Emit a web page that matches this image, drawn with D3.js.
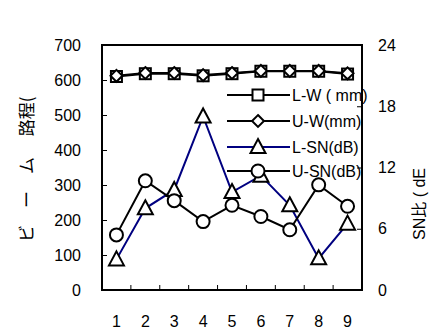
<!DOCTYPE html>
<html>
<head>
<meta charset="utf-8">
<script src="https://cdn.jsdelivr.net/npm/d3@7"></script>
<style>
  body { margin: 0; background: #fff; }
  text { font-family: "Liberation Sans", Arial, "Noto Sans CJK JP", sans-serif; }
</style>
</head>
<body>
<figure id="chart" style="margin:0"></figure>
<script>
// data
const categories = ["1", "2", "3", "4", "5", "6", "7", "8", "9"];
const lw = [610, 618, 618, 612, 618, 625, 625, 625, 617];
const uw = [612, 620, 620, 614, 620, 626, 626, 626, 619];
const lsn = [3.0, 8.0, 9.8, 17.0, 9.6, 11.2, 8.3, 3.1, 6.5];
const usn = [5.4, 10.7, 8.75, 6.7, 8.3, 7.2, 5.9, 10.3, 8.2];
const leftTicks = [0, 100, 200, 300, 400, 500, 600, 700];
const rightTicks = [0, 6, 12, 18, 24];
const seriesNames = ["L-W ( mm)", "U-W(mm)", "L-SN(dB)", "U-SN(dB)"];

const width = 429, height = 332;
const plot = {left: 102, right: 362, top: 45, bottom: 290};

const svg = d3.select("figure#chart")
  .append("svg")
  .attr("width", width)
  .attr("height", height);

const x = d3.scaleBand()
  .domain(categories)
  .range([plot.left, plot.right])
  .padding(0);

const yL = d3.scaleLinear().domain([0, 700]).range([plot.bottom, plot.top]);
const yR = d3.scaleLinear().domain([0, 24]).range([plot.bottom, plot.top]);

// left axis, ticks pointing inward
svg.append("g")
  .attr("transform", "translate(" + plot.left + ",0)")
  .call(d3.axisLeft(yL).tickValues(leftTicks).tickSizeInner(-5).tickSizeOuter(0).tickPadding(21))
  .call(g => g.select(".domain").remove())
  .selectAll("text")
  .style("font-size", "16px");

// right axis
svg.append("g")
  .attr("transform", "translate(" + plot.right + ",0)")
  .call(d3.axisRight(yR).tickValues(rightTicks).tickSizeInner(-5).tickSizeOuter(0).tickPadding(16))
  .call(g => g.select(".domain").remove())
  .selectAll("text")
  .style("font-size", "16px");

// bottom labels
svg.append("g")
  .attr("transform", "translate(0," + plot.bottom + ")")
  .call(d3.axisBottom(x).tickSize(0).tickPadding(26))
  .call(g => g.select(".domain").remove())
  .selectAll("text")
  .style("font-size", "16px");

// bottom inner ticks between categories
svg.append("g")
  .selectAll("line")
  .data(categories.slice(0, -1))
  .enter()
  .append("line")
  .attr("x1", d => x(d) + x.bandwidth())
  .attr("x2", d => x(d) + x.bandwidth())
  .attr("y1", plot.bottom)
  .attr("y2", plot.bottom - 5)
  .attr("stroke", "#000");

// frame
svg.append("rect")
  .attr("x", plot.left)
  .attr("y", plot.top)
  .attr("width", plot.right - plot.left)
  .attr("height", plot.bottom - plot.top)
  .attr("fill", "none")
  .attr("stroke", "#000")
  .attr("stroke-width", 2);

// axis titles
svg.append("text")
  .attr("transform", "translate(25,242) rotate(-90)")
  .attr("dominant-baseline", "central")
  .style("font-size", "17px")
  .style("font-family", "'Noto Sans CJK JP', sans-serif")
  .text("ビ　ー　ム　 路程(");

svg.append("text")
  .attr("transform", "translate(419,240) rotate(-90)")
  .attr("dominant-baseline", "central")
  .style("font-size", "16px")
  .style("font-family", "'Liberation Sans', 'Noto Sans CJK JP', sans-serif")
  .text("SN比 ( dE");

// markers
function drawMarker(g, type, cx, cy) {
  if (type === "square") {
    g.append("rect").attr("x", cx - 5.5).attr("y", cy - 5.5).attr("width", 11).attr("height", 11);
  } else if (type === "diamond") {
    g.append("path").attr("d", d3.symbol(d3.symbolDiamond2, 90)())
      .attr("transform", "translate(" + cx + "," + cy + ")");
  } else if (type === "triangle") {
    g.append("path").attr("d", "M0,-8L7.5,6L-7.5,6Z")
      .attr("transform", "translate(" + cx + "," + cy + ")");
  } else {
    g.append("circle").attr("cx", cx).attr("cy", cy).attr("r", 6.5);
  }
}

const series = [
  {name: seriesNames[0], values: lw, y: yL, color: "#000", marker: "square"},
  {name: seriesNames[1], values: uw, y: yL, color: "#000", marker: "diamond"},
  {name: seriesNames[2], values: lsn, y: yR, color: "#000080", marker: "triangle"},
  {name: seriesNames[3], values: usn, y: yR, color: "#000", marker: "circle"}
];

series.forEach(s => {
  const line = d3.line()
    .x((d, i) => x(categories[i]) + x.bandwidth() / 2)
    .y(d => s.y(d));
  svg.append("path")
    .datum(s.values)
    .attr("d", line)
    .attr("fill", "none")
    .attr("stroke", s.color)
    .attr("stroke-width", 2);
});

series.forEach(s => {
  const g = svg.append("g")
    .attr("fill", "#fff")
    .attr("stroke", "#000")
    .attr("stroke-width", 2);
  s.values.forEach((v, i) => drawMarker(g, s.marker, x(categories[i]) + x.bandwidth() / 2, s.y(v)));
});

// legend
const legendY = [95, 121, 147, 171];
series.forEach((s, i) => {
  const ly = legendY[i];
  svg.append("line")
    .attr("x1", 227).attr("x2", 290)
    .attr("y1", ly).attr("y2", ly)
    .attr("stroke", s.color)
    .attr("stroke-width", 2);
  const g = svg.append("g")
    .attr("fill", "#fff")
    .attr("stroke", "#000")
    .attr("stroke-width", 2);
  drawMarker(g, s.marker, 258, ly);
  svg.append("text")
    .attr("x", 292)
    .attr("y", ly)
    .attr("dominant-baseline", "central")
    .style("font-size", "16px")
    .text(s.name);
});
</script>
</body>
</html>
